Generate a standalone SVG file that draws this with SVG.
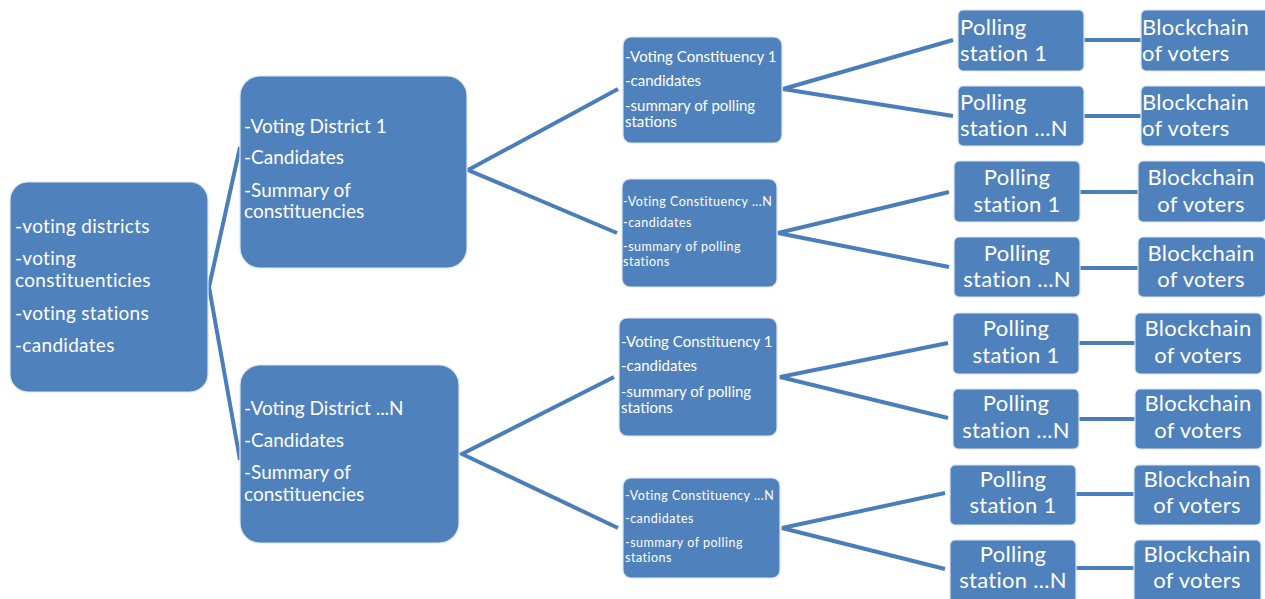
<svg xmlns="http://www.w3.org/2000/svg" width="1265" height="599" viewBox="0 0 1265 599">
  <style>
    .box { fill: #4f81bd; stroke: #dce6f2; stroke-width: 1.2; }
    .link { stroke: #4a7ebb; stroke-width: 4; fill: none; stroke-linecap: butt; }
    text { fill: #ffffff; font-family: "Lato", "Liberation Sans", sans-serif; }
    .t20 { font-size: 19px; }
    .t20w { font-size: 19px; letter-spacing: 0.3px; }
    .t15 { font-size: 15px; }
    .t13 { font-size: 12.5px; letter-spacing: 0.5px; }
    .t22 { font-size: 22px; letter-spacing: 0.3px; }
    .mid { text-anchor: middle; }
  </style>
  <rect width="1265" height="599" fill="#ffffff"/>

  <!-- connectors -->
  <g id="connectors">
    <polyline class="link" points="240,147 209,287 240,460"/>
    <polyline class="link" points="618,89 468,170 617,233"/>
    <polyline class="link" points="614,377 462,454 618,528"/>
    <polyline class="link" points="953,40 783,89 953,116"/>
    <polyline class="link" points="949,192 778,233 949,267"/>
    <polyline class="link" points="948,343 780,377 948,418"/>
    <polyline class="link" points="945,493 782,528 945,569"/>
    <line class="link" x1="1084" y1="40" x2="1141" y2="40"/>
    <line class="link" x1="1084" y1="116" x2="1141" y2="116"/>
    <line class="link" x1="1080" y1="192" x2="1138" y2="192"/>
    <line class="link" x1="1080" y1="268" x2="1138" y2="268"/>
    <line class="link" x1="1079" y1="343" x2="1135" y2="343"/>
    <line class="link" x1="1079" y1="419" x2="1135" y2="419"/>
    <line class="link" x1="1076" y1="494" x2="1134" y2="494"/>
    <line class="link" x1="1076" y1="568" x2="1134" y2="568"/>
  </g>

  <!-- root -->
  <g id="root">
    <rect class="box" x="10" y="182" width="198" height="210" rx="18"/>
    <text class="t20w" x="15" y="233">-voting districts</text>
    <text class="t20w" x="15" y="265">-voting</text>
    <text class="t20w" x="15" y="287">constituenticies</text>
    <text class="t20w" x="15" y="320">-voting stations</text>
    <text class="t20w" x="15" y="352">-candidates</text>
  </g>

  <!-- districts -->
  <g id="district-1">
    <rect class="box" x="240" y="76" width="227" height="192" rx="20"/>
    <text class="t20" x="244" y="133">-Voting District 1</text>
    <text class="t20" x="244" y="164">-Candidates</text>
    <text class="t20" x="244" y="197">-Summary of</text>
    <text class="t20" x="244" y="218">constituencies</text>
  </g>
  <g id="district-n">
    <rect class="box" x="240" y="365" width="219" height="178" rx="20"/>
    <text class="t20" x="244" y="415">-Voting District ...N</text>
    <text class="t20" x="244" y="447">-Candidates</text>
    <text class="t20" x="244" y="479">-Summary of</text>
    <text class="t20" x="244" y="501">constituencies</text>
  </g>

  <!-- constituencies -->
  <g id="constituency-1a">
    <rect class="box" x="623" y="37" width="159" height="106" rx="8"/>
    <text class="t15" x="625" y="62">-Voting Constituency 1</text>
    <text class="t15" x="625" y="86">-candidates</text>
    <text class="t15" x="625" y="111">-summary of polling</text>
    <text class="t15" x="625" y="127">stations</text>
  </g>
  <g id="constituency-na">
    <rect class="box" x="622" y="179" width="155" height="108" rx="8"/>
    <text class="t13" x="623" y="206">-Voting Constituency ...N</text>
    <text class="t13" x="623" y="227">-candidates</text>
    <text class="t13" x="623" y="251">-summary of polling</text>
    <text class="t13" x="623" y="266">stations</text>
  </g>
  <g id="constituency-1b">
    <rect class="box" x="619" y="318" width="158" height="118" rx="8"/>
    <text class="t15" x="621" y="347">-Voting Constituency 1</text>
    <text class="t15" x="621" y="371">-candidates</text>
    <text class="t15" x="621" y="397">-summary of polling</text>
    <text class="t15" x="621" y="413">stations</text>
  </g>
  <g id="constituency-nb">
    <rect class="box" x="623" y="478" width="157" height="100" rx="8"/>
    <text class="t13" x="625" y="500">-Voting Constituency ...N</text>
    <text class="t13" x="625" y="523">-candidates</text>
    <text class="t13" x="625" y="547">-summary of polling</text>
    <text class="t13" x="625" y="562">stations</text>
  </g>

  <!-- polling stations and voter ledgers -->
  <g id="ps-1">
    <rect class="box" x="958" y="10" width="126" height="61" rx="5"/>
    <text class="t22" x="960" y="35">Polling</text>
    <text class="t22" x="960" y="61">station 1</text>
  </g>
  <g id="bc-1">
    <rect class="box" x="1141" y="10" width="130" height="61" rx="5"/>
    <text class="t22" x="1142" y="35">Blockchain</text>
    <text class="t22" x="1142" y="61">of voters</text>
  </g>
  <g id="ps-2">
    <rect class="box" x="958" y="86" width="126" height="60" rx="5"/>
    <text class="t22" x="960" y="110">Polling</text>
    <text class="t22" x="960" y="136">station ...N</text>
  </g>
  <g id="bc-2">
    <rect class="box" x="1141" y="86" width="130" height="60" rx="5"/>
    <text class="t22" x="1142" y="110">Blockchain</text>
    <text class="t22" x="1142" y="136">of voters</text>
  </g>
  <g id="ps-3">
    <rect class="box" x="954" y="161" width="126" height="61" rx="5"/>
    <text class="t22 mid" x="1017" y="185">Polling</text>
    <text class="t22 mid" x="1017" y="212">station 1</text>
  </g>
  <g id="bc-3">
    <rect class="box" x="1138" y="161" width="128" height="61" rx="5"/>
    <text class="t22 mid" x="1201" y="185">Blockchain</text>
    <text class="t22 mid" x="1201" y="212">of voters</text>
  </g>
  <g id="ps-4">
    <rect class="box" x="954" y="237" width="126" height="60" rx="5"/>
    <text class="t22 mid" x="1017" y="261">Polling</text>
    <text class="t22 mid" x="1017" y="287">station ...N</text>
  </g>
  <g id="bc-4">
    <rect class="box" x="1138" y="237" width="128" height="60" rx="5"/>
    <text class="t22 mid" x="1201" y="261">Blockchain</text>
    <text class="t22 mid" x="1201" y="287">of voters</text>
  </g>
  <g id="ps-5">
    <rect class="box" x="953" y="313" width="126" height="61" rx="5"/>
    <text class="t22 mid" x="1016" y="336">Polling</text>
    <text class="t22 mid" x="1016" y="363">station 1</text>
  </g>
  <g id="bc-5">
    <rect class="box" x="1135" y="313" width="127" height="61" rx="5"/>
    <text class="t22 mid" x="1198" y="336">Blockchain</text>
    <text class="t22 mid" x="1198" y="363">of voters</text>
  </g>
  <g id="ps-6">
    <rect class="box" x="953" y="389" width="126" height="60" rx="5"/>
    <text class="t22 mid" x="1016" y="411">Polling</text>
    <text class="t22 mid" x="1016" y="438">station ...N</text>
  </g>
  <g id="bc-6">
    <rect class="box" x="1135" y="389" width="127" height="60" rx="5"/>
    <text class="t22 mid" x="1198" y="411">Blockchain</text>
    <text class="t22 mid" x="1198" y="438">of voters</text>
  </g>
  <g id="ps-7">
    <rect class="box" x="950" y="465" width="126" height="60" rx="5"/>
    <text class="t22 mid" x="1013" y="487">Polling</text>
    <text class="t22 mid" x="1013" y="513">station 1</text>
  </g>
  <g id="bc-7">
    <rect class="box" x="1134" y="465" width="127" height="60" rx="5"/>
    <text class="t22 mid" x="1197" y="487">Blockchain</text>
    <text class="t22 mid" x="1197" y="513">of voters</text>
  </g>
  <g id="ps-8">
    <rect class="box" x="950" y="540" width="126" height="64" rx="5"/>
    <text class="t22 mid" x="1013" y="562">Polling</text>
    <text class="t22 mid" x="1013" y="588">station ...N</text>
  </g>
  <g id="bc-8">
    <rect class="box" x="1134" y="540" width="127" height="64" rx="5"/>
    <text class="t22 mid" x="1197" y="562">Blockchain</text>
    <text class="t22 mid" x="1197" y="588">of voters</text>
  </g>
</svg>
